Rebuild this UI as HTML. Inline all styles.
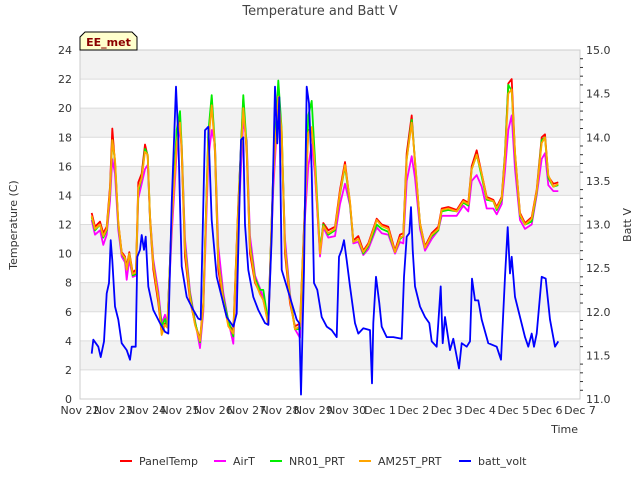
<!DOCTYPE html>
<html><head><meta charset="utf-8"><style>
body{margin:0;background:#fff;font-family:"Liberation Sans",sans-serif}
svg text{font-family:"DejaVu Sans","Liberation Sans",sans-serif}
</style></head><body>
<svg id="chart" width="640" height="480" xmlns="http://www.w3.org/2000/svg">
<text x="320" y="15" text-anchor="middle" font-size="13" fill="#444">Temperature and Batt V</text>
<g id="bands"></g><g id="grid"></g>
<rect x="80" y="50" width="500" height="349" fill="none" stroke="#ccc"/>
<g id="series"></g><g id="axes"></g>
<g>
<path d="M80,50 L80,37 L85,32 L132,32 L137,37 L137,50 Z" fill="#ffffcc" stroke="#000"/>
<text x="108.5" y="46" text-anchor="middle" font-size="11" font-weight="bold" fill="#8b0000">EE_met</text></g>
<text transform="translate(17,225) rotate(-90)" text-anchor="middle" font-size="11" fill="#333">Temperature (C)</text>
<text transform="translate(631,225) rotate(-90)" text-anchor="middle" font-size="11" fill="#333">Batt V</text>
<text x="578" y="433" text-anchor="end" font-size="11" fill="#333">Time</text>
<g id="legend"></g>
</svg>
<script>
const xLabels=["Nov 22","Nov 23","Nov 24","Nov 25","Nov 26","Nov 27","Nov 28","Nov 29","Nov 30","Dec 1","Dec 2","Dec 3","Dec 4","Dec 5","Dec 6","Dec 7"];
const yTicks=[0,2,4,6,8,10,12,14,16,18,20,22,24];
const y2Ticks=["11.0","11.5","12.0","12.5","13.0","13.5","14.0","14.5","15.0"];
const days=[.35,.45,.6,.7,.8,.9,.97,1.05,1.15,1.25,1.35,1.4,1.48,1.58,1.68,1.75,1.85,1.95,2.03,2.1,2.2,2.35,2.45,2.55,2.62,2.75,2.9,3.0,3.05,3.15,3.3,3.45,3.6,3.7,3.85,3.95,4.05,4.15,4.3,4.45,4.6,4.75,4.9,5.0,5.1,5.25,5.4,5.5,5.65,5.8,5.95,6.05,6.15,6.3,6.45,6.6,6.75,6.85,6.95,7.05,7.2,7.3,7.45,7.65,7.8,7.95,8.1,8.2,8.35,8.5,8.65,8.9,9.05,9.25,9.45,9.6,9.7,9.8,9.95,10.05,10.2,10.35,10.55,10.75,10.85,11.05,11.3,11.5,11.65,11.75,11.9,12.05,12.2,12.4,12.5,12.65,12.75,12.85,12.95,13.05,13.2,13.35,13.55,13.7,13.85,13.95,14.05,14.2,14.35];
const panelTemp=[12.8,11.85,12.2,11.4,11.85,14.6,18.6,16.2,12.1,10.1,9.8,9.1,10.1,8.7,8.9,14.9,15.5,17.5,16.7,12.3,8.9,6.6,4.5,5.2,5,12.3,18,19.2,16.9,9.8,6.8,5.2,4.1,6.6,18,20.7,16.9,8.9,6.6,5.2,4.7,13.5,20.6,16.9,10,8,7.3,6.8,5.4,15.7,21.5,18,10,6.6,5,5.2,13.5,18.5,18.5,15.7,10,12.1,11.6,11.85,14.4,16.3,13.5,10.9,11.2,10.2,10.7,12.4,12,11.85,10.2,11.3,11.4,16.9,19.5,16.2,12.1,10.5,11.4,11.85,13.1,13.2,13,13.7,13.5,16,17.1,15.5,13.9,13.7,13.2,13.9,16.9,21.7,22,16.9,12.8,12.1,12.5,14.4,18,18.2,15.3,14.8,14.9];
const airT=[12.3,11.3,11.6,10.6,11.3,13.6,16.5,15.5,11.6,9.8,9.4,8.2,9.6,8.4,8.5,13.8,14.8,15.8,16.1,12.6,9.6,7.4,5.2,5.8,5,11.3,17,18.6,17.5,11,7.4,5.4,3.5,6,16.5,18.5,17.5,10.5,7.3,5.4,3.8,12,19.2,17.8,11.2,8.5,7.6,7,5.1,14.5,20.2,17.8,11,7.2,4.8,4.2,12.5,16,17.5,15.5,9.8,11.8,11.1,11.2,13.4,14.8,13.3,10.7,10.8,9.9,10.3,11.8,11.4,11.3,10,10.8,10.7,15,16.7,15.2,11.7,10.2,11,11.6,12.6,12.6,12.6,13.3,12.9,15,15.4,14.6,13.1,13.1,12.7,13.4,15.7,18.5,19.5,15.8,12.3,11.7,12,14,16.5,16.9,14.7,14.3,14.3];
const nr01=[12.5,11.6,12.0,11.1,11.6,14.2,17.8,16.4,12.0,10.0,9.6,8.9,10.0,8.5,8.6,14.3,15.2,17.2,16.8,12.5,9.3,7.0,5.0,5.5,5,12.2,18.5,19.8,17.4,10.5,7.2,5.3,3.9,6.4,18.3,20.9,17.4,9.5,7.0,5.4,4.3,13.2,20.9,17.4,10.6,8.3,7.5,7.5,5.2,15.5,21.9,18.5,10.5,7.0,4.8,4.8,13.2,19.5,20.5,16.5,10.2,12.0,11.3,11.6,14.1,16.0,13.4,10.8,11.0,10.0,10.5,12.0,11.7,11.5,10.1,11.0,11.2,16.5,19.2,16.4,12.0,10.4,11.2,11.6,12.9,13.0,12.9,13.5,13.3,15.8,16.8,15.3,13.7,13.6,13.0,13.7,16.8,21.6,21.2,16.8,12.6,12.0,12.2,14.2,17.8,18.0,15.2,14.6,14.7];
const am25t=[12.6,11.7,12.0,11.2,11.7,14.3,17.8,16.5,12.2,10.0,9.7,8.9,10.0,8.6,8.7,14.5,15.2,17.0,16.8,12.6,9.2,6.9,4.4,5.1,4.9,12.0,17.6,19.0,17.2,10.3,7.0,5.1,4.0,6.4,17.6,20.2,17.2,9.4,6.8,5.0,4.5,13.2,20.0,17.2,10.4,8.1,7.2,6.8,5.1,15.3,20.8,18.4,10.4,6.8,4.8,5.0,13.2,18.3,18.7,16.0,10.0,11.9,11.4,11.7,14.2,16.1,13.6,10.8,11.0,10.1,10.6,12.3,11.9,11.7,10.1,11.1,11.2,16.5,19.0,16.4,12.1,10.4,11.3,11.7,13.0,13.1,12.9,13.6,13.4,15.8,16.8,15.5,13.8,13.6,13.1,13.8,16.6,21.0,21.3,17.0,12.7,12.0,12.4,14.3,17.6,18.0,15.4,14.6,14.8];
const battDays=[.35,.4,.55,.62,.72,.8,.87,.92,.97,1.05,1.15,1.25,1.4,1.5,1.55,1.67,1.72,1.8,1.85,1.92,1.97,2.05,2.2,2.4,2.55,2.65,2.75,2.88,2.95,3.0,3.05,3.2,3.4,3.55,3.62,3.75,3.85,3.95,4.1,4.25,4.4,4.6,4.7,4.83,4.9,4.95,5.05,5.2,5.35,5.55,5.65,5.75,5.85,5.92,5.98,6.05,6.2,6.35,6.5,6.58,6.63,6.72,6.8,6.87,6.95,7.02,7.12,7.25,7.4,7.55,7.7,7.77,7.85,7.92,8.0,8.1,8.25,8.35,8.5,8.7,8.76,8.8,8.88,8.98,9.05,9.2,9.4,9.65,9.72,9.8,9.88,9.93,9.98,10.05,10.2,10.35,10.48,10.55,10.7,10.75,10.82,10.88,10.95,11.1,11.2,11.37,11.45,11.6,11.7,11.76,11.85,11.95,12.05,12.25,12.5,12.63,12.75,12.83,12.9,12.95,13.05,13.2,13.35,13.45,13.55,13.62,13.7,13.85,13.97,14.1,14.25,14.35];
const battVolt=[11.52,11.68,11.6,11.48,11.66,12.21,12.33,12.82,12.59,12.06,11.91,11.64,11.56,11.45,11.6,11.6,12.63,12.71,12.88,12.71,12.86,12.29,12.02,11.87,11.77,11.75,13.24,14.58,14.0,13.24,12.52,12.17,12.02,11.92,11.91,14.08,14.12,13.05,12.4,12.17,11.94,11.83,11.98,13.97,14.0,13.0,12.48,12.17,12.02,11.87,11.85,12.86,14.58,13.93,14.46,12.48,12.29,12.1,11.91,11.87,11.05,12.48,14.58,14.39,13.62,12.33,12.25,11.94,11.83,11.79,11.71,12.63,12.71,12.82,12.59,12.29,11.87,11.75,11.81,11.79,11.18,11.87,12.4,12.1,11.83,11.71,11.71,11.69,12.4,12.86,12.9,13.2,12.71,12.29,12.06,11.94,11.87,11.66,11.6,11.87,12.29,11.64,11.94,11.56,11.69,11.35,11.64,11.6,11.66,12.38,12.13,12.13,11.91,11.64,11.6,11.45,12.4,12.97,12.44,12.63,12.17,11.94,11.71,11.6,11.75,11.6,11.75,12.4,12.38,11.91,11.6,11.66];

const NS="http://www.w3.org/2000/svg";
const X0=80,X1=580,Y0=399,Y1=50;
const xs=d=>X0+d*(X1-X0)/15;
const ys=v=>Y0-v*(Y0-Y1)/24;
const y2s=v=>Y0-(v-11)*(Y0-Y1)/4;
function mk(tag,attrs,parent){const e=document.createElementNS(NS,tag);for(const k in attrs)e.setAttribute(k,attrs[k]);parent.appendChild(e);return e;}
const bands=document.getElementById('bands'),grid=document.getElementById('grid'),axes=document.getElementById('axes'),series=document.getElementById('series'),legend=document.getElementById('legend');
for(let i=0;i<yTicks.length-1;i++){if(i%2===1){const r=mk('rect',{x:X0,y:ys(yTicks[i+1]),width:X1-X0,height:ys(yTicks[i])-ys(yTicks[i+1]),fill:'#f2f2f2'},bands);

}}
yTicks.forEach(v=>{const l=mk('line',{x1:X0,x2:X1,y1:ys(v),y2:ys(v),stroke:'#dcdcdc'},grid);


const t=mk('text',{x:X0-8,y:ys(v)+4,'text-anchor':'end','font-size':11,fill:'#333'},axes);t.textContent=v;

});
y2Ticks.forEach(s=>{const v=parseFloat(s);const t=mk('text',{x:X1+6,y:y2s(v)+4,'font-size':11,fill:'#333'},axes);t.textContent=s;

});
for(let k=0;k<=40;k++){const v=11+k*0.1;const l=mk('line',{x1:X1,x2:X1+(k%5===0?0:3),y1:y2s(v),y2:y2s(v),stroke:'#333'},axes);

}
xLabels.forEach((s,i)=>{const t=mk('text',{x:xs(i),y:414,'text-anchor':'middle','font-size':11,fill:'#333'},axes);t.textContent=s;

});
function line(xa,ya,scale,color,name){const d=xa.map((x,i)=>(i?'L':'M')+xs(x).toFixed(1)+','+scale(ya[i]).toFixed(1)).join('');
const p=mk('path',{d:d,fill:'none',stroke:color,'stroke-width':1.8,'stroke-linejoin':'round'},series);

}
line(days,panelTemp,ys,'#ff0000','paneltemp-line');
line(days,airT,ys,'#ff00ff','airt-line');
line(days,nr01,ys,'#00ee00','nr01-prt-line');
line(days,am25t,ys,'#ffa500','am25t-prt-line');
line(battDays,battVolt,y2s,'#0000ff','batt-volt-line');
const leg=[["PanelTemp","#ff0000",120],["AirT","#ff00ff",214],["NR01_PRT","#00ee00",270],["AM25T_PRT","#ffa500",359],["batt_volt","#0000ff",459]];
leg.forEach(([n,c,x])=>{const g=mk('g',{},legend);


mk('line',{x1:x,x2:x+12,y1:461,y2:461,stroke:c,'stroke-width':2},g);
const t=mk('text',{x:x+19,y:465,'font-size':11,fill:'#333'},g);t.textContent=n;});
</script>
</body></html>
